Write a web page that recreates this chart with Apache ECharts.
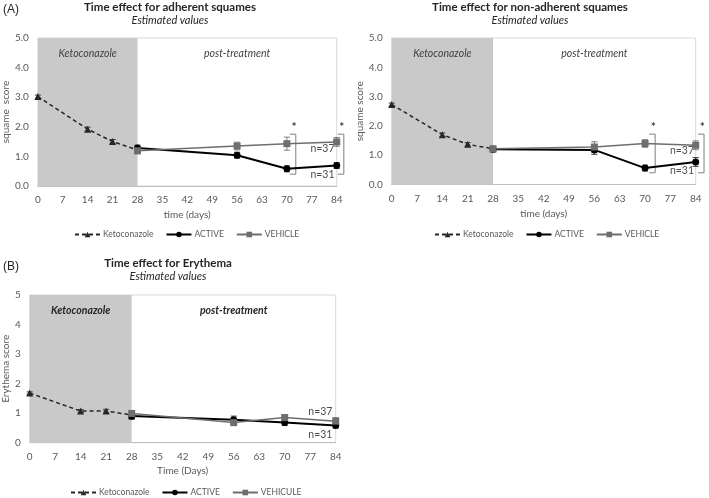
<!DOCTYPE html>
<html><head><meta charset="utf-8">
<script src="https://cdn.jsdelivr.net/npm/echarts@6/dist/echarts.min.js"></script>
<style>html,body{margin:0;padding:0;background:#fff}#c{width:709px;height:498px}</style>
</head><body><div id="c"></div>
<script>
// ---- data ----
const xTicks = [0,7,14,21,28,35,42,49,56,63,70,77,84];
const ketoDays = [0,14,21,28];
const postDays = [28,56,70,84];

// (A) adherent squames
const adhKeto = [3.02,1.92,1.50,1.22];
const adhKetoErr = [0.05,0.07,0.07,0.08];
const adhActive = [1.28,1.04,0.58,0.69];
const adhActiveErr = [0.10,0.10,0.10,0.10];
const adhVehicle = [1.19,1.35,1.43,1.49];
const adhVehicleErr = [0.10,0.13,0.22,0.15];

// (A) non-adherent squames
const nonKeto = [2.73,1.70,1.37,1.22];
const nonKetoErr = [0.05,0.06,0.06,0.08];
const nonActive = [1.20,1.18,0.56,0.77];
const nonActiveErr = [0.08,0.15,0.10,0.15];
const nonVehicle = [1.22,1.28,1.40,1.34];
const nonVehicleErr = [0.08,0.18,0.13,0.15];

// (B) erythema
const eryKeto = [1.68,1.07,1.07,0.94];
const eryKetoErr = [0.04,0.05,0.06,0.15];
const eryActive = [0.90,0.78,0.68,0.58];
const eryActiveErr = [0.08,0.12,0.10,0.08];
const eryVehicle = [0.99,0.68,0.85,0.73];
const eryVehicleErr = [0.10,0.10,0.10,0.12];

// significance brackets [day, low, high]
const adhBrackets = [[72.5,0.40,1.75],[86,0.40,1.75]];
const nonBrackets = [[72.8,0.40,1.72],[86.3,0.40,1.72]];
const adhStars = [[72,1.98],[85.4,1.98]];
const nonStars = [[72.3,1.96],[85.8,1.96]];
// sample size labels [day, y, text]
const adhN = [[80,1.28,'n=37'],[80,0.37,'n=31']];
const nonN = [[80.2,1.15,'n=37'],[80.2,0.46,'n=31']];
const eryN = [[79.8,1.05,'n=37'],[79.8,0.29,'n=31']];

// ---- helpers ----
const FONT = 'Lato';
const GRAY = '#595959';
function pts(days, vals){ return days.map((d,i)=>[d, vals[i]]); }
function errPts(days, vals, errs){ return days.map((d,i)=>[d, vals[i], vals[i]-errs[i], vals[i]+errs[i]]); }

function errSeries(idx, data, color){
  return {type:'custom', xAxisIndex:idx, yAxisIndex:idx, z:4, silent:true,
    renderItem:function(p, api){
      const c = api.coord([api.value(0), api.value(2)]);
      const h = api.coord([api.value(0), api.value(3)]);
      const st = {stroke:color, lineWidth:1};
      return {type:'group', children:[
        {type:'line', shape:{x1:c[0],y1:c[1],x2:h[0],y2:h[1]}, style:st},
        {type:'line', shape:{x1:c[0]-3,y1:c[1],x2:c[0]+3,y2:c[1]}, style:st},
        {type:'line', shape:{x1:h[0]-3,y1:h[1],x2:h[0]+3,y2:h[1]}, style:st}
      ]};
    }, data:data};
}
function bracketSeries(idx, data){
  return {type:'custom', xAxisIndex:idx, yAxisIndex:idx, clip:false, silent:true, z:3,
    renderItem:function(p, api){
      const lo = api.coord([api.value(0), api.value(1)]);
      const hi = api.coord([api.value(0), api.value(2)]);
      const st = {stroke:'#7f7f7f', lineWidth:1, fill:null};
      return {type:'polyline', shape:{points:[[hi[0]-6,hi[1]],[hi[0],hi[1]],[lo[0],lo[1]],[lo[0]-6,lo[1]]]}, style:st};
    }, data:data};
}
function starSeries(idx, data){
  return {type:'scatter', xAxisIndex:idx, yAxisIndex:idx, symbolSize:0, silent:true, clip:false,
    data:data, label:{show:true, formatter:'*', position:'inside', color:'#000', fontSize:12, fontWeight:'bold', fontFamily:FONT}};
}
function nSeries(idx, data){
  return {type:'scatter', xAxisIndex:idx, yAxisIndex:idx, symbolSize:0, silent:true, clip:false,
    data:data.map(d=>({value:[d[0],d[1]], name:d[2]})),
    label:{show:true, formatter:'{b}', position:'inside', color:'#1a1a1a', fontSize:10.5, fontFamily:FONT}};
}
function lineSeries(idx, name, data, kind){
  const base = {type:'line', name:name, xAxisIndex:idx, yAxisIndex:idx, data:data, z:5, silent:true};
  if(kind==='keto') return Object.assign(base,{symbol:'triangle', symbolSize:7,
    lineStyle:{color:'#262626', width:1.5, type:[4,3]}, itemStyle:{color:'#262626'}});
  if(kind==='active') return Object.assign(base,{symbol:'circle', symbolSize:7,
    lineStyle:{color:'#000', width:2}, itemStyle:{color:'#000'}});
  return Object.assign(base,{symbol:'rect', symbolSize:7,
    lineStyle:{color:'#6e6e6e', width:1.5}, itemStyle:{color:'#6e6e6e'}});
}
function areaSeries(idx, bold){
  const lbl = {show:true, position:'insideTop', distance:10, color: bold?'#262626':'#404040',
    fontStyle:'italic', fontWeight: bold?'bold':'normal', fontSize:10.5, fontFamily:FONT};
  return {type:'line', xAxisIndex:idx, yAxisIndex:idx, data:[], silent:true,
    markArea:{silent:true, data:[
      [{xAxis:0, itemStyle:{color:'#c9c9c9'}, label:Object.assign({formatter:'Ketoconazole'},lbl)},{xAxis:28}],
      [{xAxis:28, itemStyle:{color:'rgba(0,0,0,0)'}, label:Object.assign({formatter:'post-treatment'},lbl)},{xAxis:84}]
    ]}};
}
function xAx(idx, name, gap){
  return {type:'value', gridIndex:idx, min:0, max:84, interval:7,
    name:name, nameLocation:'middle', nameGap:gap,
    nameTextStyle:{color:GRAY, fontSize:10, fontFamily:FONT},
    axisLine:{show:true, lineStyle:{color:'#bfbfbf'}}, axisTick:{show:false},
    axisLabel:{color:GRAY, fontSize:10, fontFamily:FONT, margin:9}, splitLine:{show:false}};
}
function yAx(idx, name, gap, dec){
  return {type:'value', gridIndex:idx, min:0, max:5, interval:1,
    name:name, nameLocation:'middle', nameGap:gap, nameRotate:90,
    nameTextStyle:{color:GRAY, fontSize:10, fontFamily:FONT},
    axisLine:{show:false}, axisTick:{show:false},
    axisLabel:{color:GRAY, fontSize:10, fontFamily:FONT, margin:9, formatter:v=>dec?v.toFixed(1):String(v)},
    splitLine:{show:false}};
}
function legend(left, top, names){
  return {left:left, top:top, width:400, padding:0, data:names, itemWidth:25, itemHeight:7, itemGap:12,
    textStyle:{color:GRAY, fontSize:8.5, fontFamily:FONT, padding:[0,0,0,-2]}};
}
function titleText(x, y, t, italic){
  return {type:'text', x:x, y:y, style:{text:t, fill:'#262626', align:'center', verticalAlign:'middle',
    font:(italic?'italic ':'bold ')+(italic?'11px ':'11.5px ')+FONT}};
}

const chart = echarts.init(document.getElementById('c'), null, {renderer:'canvas'});
chart.setOption({
  animation:false,
  graphic:[
    {type:'text', x:3, y:10, style:{text:'(A)', fill:'#262626', verticalAlign:'middle', font:'12px "Liberation Sans"'}},
    {type:'text', x:3, y:267, style:{text:'(B)', fill:'#262626', verticalAlign:'middle', font:'12px "Liberation Sans"'}},
    titleText(170, 7, 'Time effect for adherent squames', false),
    titleText(170, 20, 'Estimated values', true),
    titleText(530, 7, 'Time effect for non-adherent squames', false),
    titleText(530, 20, 'Estimated values', true),
    titleText(168, 263, 'Time effect for Erythema', false),
    titleText(168, 276.5, 'Estimated values', true)
  ],
  grid:[
    {left:31, top:38, width:305.7, height:148, show:true, borderColor:'#d9d9d9', borderWidth:1},
    {left:391.7, top:38, width:304, height:146.5, show:true, borderColor:'#d9d9d9', borderWidth:1},
    {left:24.3, top:295, width:311.4, height:147.7, show:true, borderColor:'#d9d9d9', borderWidth:1}
  ],
  xAxis:[xAx(0,'time (days)',24), xAx(1,'time (days)',24), xAx(2,'Time (Days)',23)],
  yAxis:[yAx(0,'squame  score',22,true), yAx(1,'squame score',23,true), yAx(2,'Erythema score',15,false)],
  legend:[
    legend(74, 230, ['Ketoconazole','ACTIVE','VEHICLE']),
    legend(434, 230, ['Ketoconazole','ACTIVE','VEHICLE']),
    legend(70, 488, ['Ketoconazole','ACTIVE','VEHICULE'])
  ],
  series:[
    areaSeries(0,false), areaSeries(1,false), areaSeries(2,true),
    lineSeries(0,'Ketoconazole',pts(ketoDays,adhKeto),'keto'),
    lineSeries(0,'ACTIVE',pts(postDays,adhActive),'active'),
    lineSeries(0,'VEHICLE',pts(postDays,adhVehicle),'vehicle'),
    errSeries(0, errPts(ketoDays,adhKeto,adhKetoErr), '#404040'),
    errSeries(0, errPts(postDays,adhActive,adhActiveErr), '#404040'),
    errSeries(0, errPts(postDays,adhVehicle,adhVehicleErr), '#7f7f7f'),
    bracketSeries(0, adhBrackets), starSeries(0, adhStars), nSeries(0, adhN),

    lineSeries(1,'Ketoconazole',pts(ketoDays,nonKeto),'keto'),
    lineSeries(1,'ACTIVE',pts(postDays,nonActive),'active'),
    lineSeries(1,'VEHICLE',pts(postDays,nonVehicle),'vehicle'),
    errSeries(1, errPts(ketoDays,nonKeto,nonKetoErr), '#404040'),
    errSeries(1, errPts(postDays,nonActive,nonActiveErr), '#404040'),
    errSeries(1, errPts(postDays,nonVehicle,nonVehicleErr), '#7f7f7f'),
    bracketSeries(1, nonBrackets), starSeries(1, nonStars), nSeries(1, nonN),

    lineSeries(2,'Ketoconazole',pts(ketoDays,eryKeto),'keto'),
    lineSeries(2,'ACTIVE',pts(postDays,eryActive),'active'),
    lineSeries(2,'VEHICULE',pts(postDays,eryVehicle),'vehicle'),
    errSeries(2, errPts(ketoDays,eryKeto,eryKetoErr), '#404040'),
    errSeries(2, errPts(postDays,eryActive,eryActiveErr), '#404040'),
    errSeries(2, errPts(postDays,eryVehicle,eryVehicleErr), '#7f7f7f'),
    nSeries(2, eryN)
  ]
});
</script></body></html>
